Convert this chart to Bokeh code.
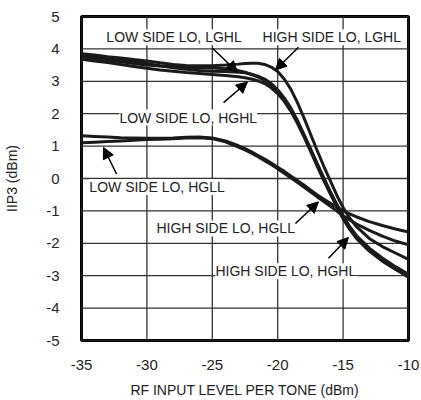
from bokeh.plotting import figure
from bokeh.models import Label, Arrow, NormalHead, FixedTicker, Range1d
from bokeh.embed import file_html
from bokeh.resources import INLINE
import math

# RF input level per tone (dBm)
rf_in = [-35, -34, -33, -32, -31, -30, -29, -28, -27, -26, -25, -24, -23,
         -22.5, -22, -21.5, -21, -20.5, -20, -19.5, -19, -18.5, -18, -17.5,
         -17, -16.5, -16, -15.5, -15, -14.5, -14, -13, -12, -11, -10]

# IIP3 (dBm) series
hs_lghl = [3.85, 3.81, 3.76, 3.72, 3.67, 3.63, 3.57, 3.52, 3.49, 3.48, 3.48, 3.50, 3.53,
           3.55, 3.56, 3.56, 3.52, 3.44, 3.30, 3.07, 2.76, 2.35, 1.88, 1.38,
           0.88, 0.40, -0.05, -0.50, -0.90, -1.22, -1.48, -1.85, -2.10, -2.30, -2.50]
ls_lghl = [3.80, 3.75, 3.70, 3.65, 3.60, 3.55, 3.48, 3.42, 3.37, 3.33, 3.31, 3.30, 3.28,
           3.26, 3.22, 3.16, 3.07, 2.93, 2.74, 2.49, 2.18, 1.80, 1.37, 0.93,
           0.48, 0.04, -0.38, -0.78, -1.15, -1.48, -1.75, -2.15, -2.45, -2.72, -2.95]
ls_hghl = [3.68, 3.63, 3.58, 3.52, 3.46, 3.40, 3.35, 3.31, 3.27, 3.24, 3.21, 3.18, 3.14,
           3.11, 3.07, 3.01, 2.93, 2.80, 2.62, 2.38, 2.08, 1.71, 1.29, 0.85,
           0.40, -0.04, -0.46, -0.86, -1.24, -1.57, -1.84, -2.24, -2.55, -2.80, -3.00]
hs_hghl = [3.75, 3.70, 3.65, 3.60, 3.55, 3.50, 3.47, 3.45, 3.43, 3.42, 3.41, 3.39, 3.33,
           3.28, 3.21, 3.13, 3.03, 2.89, 2.70, 2.45, 2.14, 1.76, 1.33, 0.89,
           0.44, 0.00, -0.42, -0.82, -1.20, -1.53, -1.80, -2.22, -2.53, -2.80, -3.05]
hs_hgll = [1.32, 1.30, 1.28, 1.26, 1.25, 1.24, 1.24, 1.25, 1.27, 1.28, 1.25, 1.16, 1.01,
           0.92, 0.82, 0.71, 0.60, 0.48, 0.35, 0.22, 0.08, -0.06, -0.20, -0.35,
           -0.50, -0.63, -0.76, -0.88, -1.00, -1.09, -1.18, -1.33, -1.45, -1.56, -1.65]
ls_hgll = [1.10, 1.12, 1.14, 1.16, 1.18, 1.20, 1.21, 1.23, 1.25, 1.26, 1.23, 1.13, 0.97,
           0.88, 0.78, 0.67, 0.55, 0.43, 0.30, 0.16, 0.02, -0.12, -0.26, -0.41,
           -0.56, -0.70, -0.85, -1.00, -1.15, -1.28, -1.40, -1.60, -1.78, -1.93, -2.05]

x_ticks = [-35, -30, -25, -20, -15, -10]
y_ticks = [-5, -4, -3, -2, -1, 0, 1, 2, 3, 4, 5]
x_lim = (-35, -10)
y_lim = (-5, 5)

FONT = "Liberation Sans"

p = figure(width=421, height=400, x_range=Range1d(*x_lim), y_range=Range1d(*y_lim),
           output_backend="svg", toolbar_location=None,
           min_border_left=81, min_border_right=13, min_border_top=16, min_border_bottom=57)

p.background_fill_color = "white"
p.border_fill_color = "white"
p.outline_line_color = "black"
p.outline_line_width = 3
p.xgrid.visible = False
p.ygrid.visible = False

for ax in (p.xaxis, p.yaxis):
    ax.major_tick_line_color = None
    ax.minor_tick_line_color = None
    ax.axis_line_color = None
    ax.major_label_text_font = FONT
    ax.major_label_text_font_size = "15px"
    ax.major_label_text_color = "#222222"
    ax.axis_label_text_font = FONT
    ax.axis_label_text_font_size = "14px"
    ax.axis_label_text_font_style = "normal"
    ax.axis_label_text_color = "#222222"

p.xaxis.ticker = FixedTicker(ticks=x_ticks)
p.yaxis.ticker = FixedTicker(ticks=y_ticks)
p.xaxis.major_label_overrides = {t: str(t) for t in x_ticks}
p.yaxis.major_label_overrides = {t: str(t) for t in y_ticks}
p.xaxis.axis_label = "RF INPUT LEVEL PER TONE (dBm)"
p.yaxis.axis_label = "IIP3 (dBm)"
p.xaxis.major_label_standoff = 13
p.xaxis.axis_label_standoff = 9
p.yaxis.major_label_standoff = 16
p.yaxis.axis_label_standoff = 23

# grid lines drawn as glyphs at the tick positions (beneath the curves)
for t in x_ticks:
    p.line([t, t], list(y_lim), line_color="#333333", line_width=1.3)
for t in y_ticks:
    p.line(list(x_lim), [t, t], line_color="#333333", line_width=1.3)

for series in (hs_hgll, ls_hgll, ls_hghl, hs_hghl, ls_lghl, hs_lghl):
    p.line(rf_in, series, line_color="#1a1a1a", line_width=3)

labels = [
    ("LOW SIDE LO, LGHL", -33.1, 4.36),
    ("HIGH SIDE LO, LGHL", -21.16, 4.36),
    ("LOW SIDE LO, HGHL", -32.1, 1.88),
    ("LOW SIDE LO, HGLL", -34.4, -0.26),
    ("HIGH SIDE LO, HGLL", -29.27, -1.54),
    ("HIGH SIDE LO, HGHL", -24.76, -2.86),
]
for txt, lx, ly in labels:
    p.add_layout(Label(x=lx, y=ly, text=txt, text_font=FONT, text_font_size="14px",
                       text_color="#222222", text_align="left", text_baseline="middle",
                       background_fill_color="white"))

arrows = [
    (-24.98, 4.02, -23.07, 3.28),
    (-18.41, 4.05, -20.17, 3.35),
    (-24.14, 2.34, -22.31, 2.98),
    (-32.32, 0.14, -33.32, 0.96),
    (-18.64, -1.39, -16.88, -0.72),
    (-16.12, -2.46, -14.59, -1.82),
]
for xs, ys, xe, ye in arrows:
    p.add_layout(Arrow(end=NormalHead(size=11, fill_color="black", line_color="black"),
                       x_start=xs, y_start=ys, x_end=xe, y_end=ye,
                       line_color="black", line_width=1.5))

p.add_layout(Label(x=-10, y=5, x_offset=9, text="MAX2320toc37", angle=math.pi / 2,
                   text_font=FONT, text_font_size="9px", text_color="#333333",
                   text_align="right", text_baseline="middle"))

open("out.html", "w").write(file_html(p, INLINE))
